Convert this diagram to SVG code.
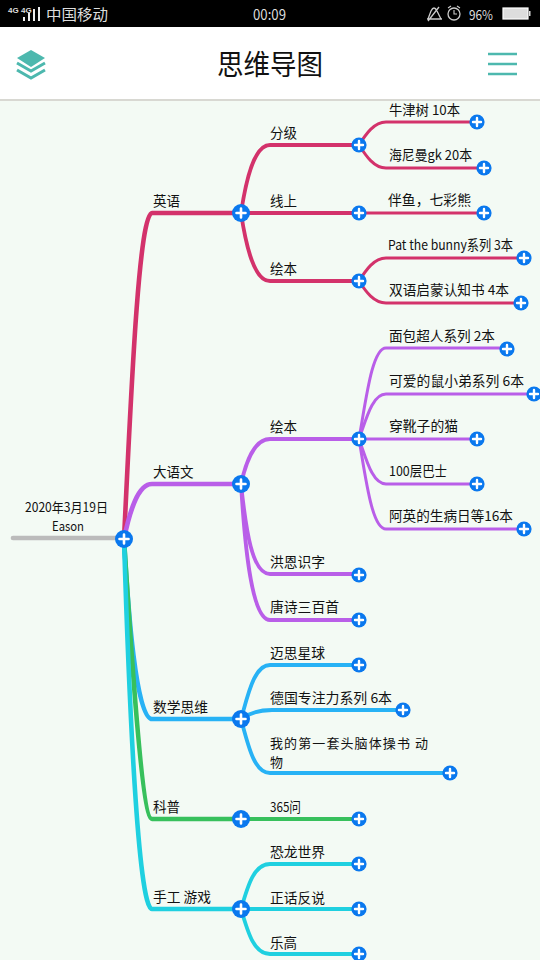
<svg xmlns="http://www.w3.org/2000/svg" width="540" height="960" viewBox="0 0 540 960">
<defs>
<g id="plus"><circle r="7.6" fill="#0a78ee"/><path d="M-4 0H4M0-4V4" stroke="#fff" stroke-width="2.4" stroke-linecap="round" fill="none"/></g>
<g id="plusL"><circle r="9" fill="#0a78ee"/><path d="M-4.5 0H4.5M0-4.5V4.5" stroke="#fff" stroke-width="2.6" stroke-linecap="round" fill="none"/></g>
</defs>
<style>
text{font-family:"Noto Sans CJK SC","Noto Sans",sans-serif;fill:#111;font-size:13.5px}
.c{fill:none;stroke-linecap:round;stroke-linejoin:round}
.r{stroke:#d3326b}.p{stroke:#b95ee8}.b{stroke:#27b2f5}.g{stroke:#37c05c}.t{stroke:#1fd0e0}
.w0{stroke-width:4.6}.w1{stroke-width:3.8}.w2{stroke-width:3}
.st{fill:#ddd;font-size:15px}
.sm{font-size:13px}
</style>
<rect width="540" height="960" fill="#f3faf4"/>
<rect width="540" height="27" fill="#000"/>
<rect y="27" width="540" height="72" fill="#fff"/>
<rect y="99" width="540" height="2" fill="#d8d8d2"/>
<g id="statusbar">
<text x="8" y="13" style="fill:#ddd;font-size:8px;font-weight:bold;font-family:'Liberation Sans',sans-serif">4G</text>
<text x="21" y="13" style="fill:#ddd;font-size:8px;font-weight:bold;font-family:'Liberation Sans',sans-serif">4G</text>
<path d="M23 17h2v4h-2zM28 13h2v8h-2zM33 9h2v12h-2zM38 7h2v14h-2z" fill="#eee" stroke="none"/>
<text class="st" x="46" y="20" textLength="62" lengthAdjust="spacingAndGlyphs">中国移动</text>
<text class="st" x="253" y="20" textLength="33" lengthAdjust="spacingAndGlyphs">00:09</text>
<path d="M428 19L431 11Q434 5 437 11L441 19ZM427 19H442M439 7L428 21" fill="none" stroke="#ccc" stroke-width="1.3"/>
<circle cx="454" cy="14" r="6" fill="none" stroke="#ccc" stroke-width="1.3"/>
<path d="M454 10V14H457M448 8L451 6M460 8L457 6" fill="none" stroke="#ccc" stroke-width="1.1"/>
<text class="st" x="469" y="20" style="font-size:13px" textLength="24" lengthAdjust="spacingAndGlyphs">96%</text>
<rect x="503" y="8" width="25" height="11" fill="#ddd" stroke="#fff" stroke-width="1.2"/>
<rect x="529" y="11" width="1.5" height="5" fill="#ddd"/>
</g>
<g id="appbar">
<g id="layers-icon">
<path d="M31 50L45 58L31 67L17 58Z" fill="#4db8ae"/>
<path d="M17 63L31 71L45 63M17 70L31 78L45 70" fill="none" stroke="#4db8ae" stroke-width="3"/>
</g>
<text x="217" y="75" style="font-size:28px" textLength="106" lengthAdjust="spacingAndGlyphs">思维导图</text>
<path id="menu-icon" d="M488 54H517M488 64H517M488 74H517" stroke="#4db8ae" stroke-width="2.4" fill="none"/>
</g>
<g id="connectors">
<path class="c w0" stroke="#bbb" d="M13 538H124"/>
<path class="c w0 r" d="M124 539C130 420 138 213 152 213H241"/>
<path class="c w0 p" d="M124 539C130 510 138 484 152 484H241"/>
<path class="c w0 b" d="M124 539C128 610 136 719 152 719H241"/>
<path class="c w0 g" d="M124 539C131 650 142 819 152 819H241"/>
<path class="c w0 t" d="M124 539C129 700 138 909 152 909H241"/>
<g class="c w1 r">
<path d="M241 213C246 180 254 145 270 145H359"/><path d="M241 213H359"/><path d="M241 213C246 246 254 281 270 281H359"/>
</g>
<g class="c w2 r">
<path d="M359 145C366 134 374 122 386 122H477"/><path d="M359 145C366 156 374 168 386 168H484"/>
<path d="M359 213H484"/>
<path d="M359 281C366 270 374 258 386 258H524"/><path d="M359 281C366 292 374 303 386 303H521"/>
</g>
<g class="c w1 p">
<path d="M241 484C246 462 254 439 270 439H359"/>
<path d="M241 484C246 530 252 574 270 574H359"/><path d="M241 484C245 550 252 620 270 620H359"/>
</g>
<g class="c w2 p">
<path d="M359 439C366 400 372 348 386 348H507"/><path d="M359 439C366 420 372 394 386 394H534"/>
<path d="M359 439H477"/><path d="M359 439C366 458 372 484 386 484H477"/>
<path d="M359 439C366 480 372 529 386 529H524"/>
</g>
<g class="c w1 b">
<path d="M241 719C248 695 254 665 270 665H359"/><path d="M241 719C248 714 258 710 272 710H404"/>
<path d="M241 719C248 745 254 773 270 773H450"/>
</g>
<path class="c w1 g" d="M241 819H359"/>
<g class="c w1 t">
<path d="M241 909C248 885 254 864 270 864H359"/><path d="M241 909H359"/><path d="M241 909C248 933 254 954 270 954H359"/>
</g>
</g>
<g id="n-root"><text class="sm" x="25" y="512" textLength="83" lengthAdjust="spacingAndGlyphs">2020年3月19日</text><text class="sm" x="52" y="531" textLength="32" lengthAdjust="spacingAndGlyphs">Eason</text><use href="#plusL" x="124" y="539"/></g>
<g id="n-en"><text x="153" y="206">英语</text><use href="#plusL" x="241" y="213"/></g>
<g id="n-en1"><text x="270" y="138">分级</text><use href="#plus" x="359" y="145"/></g>
<g id="n-en11"><text x="389" y="115" textLength="71" lengthAdjust="spacingAndGlyphs">牛津树 10本</text><use href="#plus" x="477" y="122"/></g>
<g id="n-en12"><text x="389" y="160" textLength="83" lengthAdjust="spacingAndGlyphs">海尼曼gk 20本</text><use href="#plus" x="484" y="168"/></g>
<g id="n-en2"><text x="270" y="206">线上</text><use href="#plus" x="359" y="213"/></g>
<g id="n-en21"><text x="388" y="205" textLength="83" lengthAdjust="spacingAndGlyphs">伴鱼，七彩熊</text><use href="#plus" x="484" y="213"/></g>
<g id="n-en3"><text x="270" y="274">绘本</text><use href="#plus" x="359" y="281"/></g>
<g id="n-en31"><text x="388" y="250" textLength="125" lengthAdjust="spacingAndGlyphs">Pat the bunny系列 3本</text><use href="#plus" x="524" y="258"/></g>
<g id="n-en32"><text x="389" y="295" textLength="120" lengthAdjust="spacingAndGlyphs">双语启蒙认知书 4本</text><use href="#plus" x="521" y="303"/></g>
<g id="n-cn"><text x="153" y="477">大语文</text><use href="#plusL" x="241" y="484"/></g>
<g id="n-cn1"><text x="270" y="432">绘本</text><use href="#plus" x="359" y="439"/></g>
<g id="n-cn11"><text x="389" y="341" textLength="106" lengthAdjust="spacingAndGlyphs">面包超人系列 2本</text><use href="#plus" x="507" y="349"/></g>
<g id="n-cn12"><text x="389" y="386" textLength="135" lengthAdjust="spacingAndGlyphs">可爱的鼠小弟系列 6本</text><use href="#plus" x="534" y="394"/></g>
<g id="n-cn13"><text x="389" y="431" textLength="69" lengthAdjust="spacingAndGlyphs">穿靴子的猫</text><use href="#plus" x="477" y="439"/></g>
<g id="n-cn14"><text x="389" y="476" textLength="58" lengthAdjust="spacingAndGlyphs">100层巴士</text><use href="#plus" x="477" y="484"/></g>
<g id="n-cn15"><text x="389" y="521" textLength="124" lengthAdjust="spacingAndGlyphs">阿英的生病日等16本</text><use href="#plus" x="524" y="529"/></g>
<g id="n-cn2"><text x="270" y="567" textLength="55" lengthAdjust="spacingAndGlyphs">洪恩识字</text><use href="#plus" x="359" y="575"/></g>
<g id="n-cn3"><text x="270" y="612" textLength="69" lengthAdjust="spacingAndGlyphs">唐诗三百首</text><use href="#plus" x="359" y="620"/></g>
<g id="n-ma"><text x="153" y="712" textLength="55" lengthAdjust="spacingAndGlyphs">数学思维</text><use href="#plusL" x="241" y="719"/></g>
<g id="n-ma1"><text x="270" y="658" textLength="55" lengthAdjust="spacingAndGlyphs">迈思星球</text><use href="#plus" x="359" y="665"/></g>
<g id="n-ma2"><text x="270" y="703" textLength="122" lengthAdjust="spacingAndGlyphs">德国专注力系列 6本</text><use href="#plus" x="403" y="710"/></g>
<g id="n-ma3"><text class="sm" x="270" y="748" textLength="158" lengthAdjust="spacing">我的第一套头脑体操书 动</text><text class="sm" x="270" y="767">物</text><use href="#plus" x="450" y="773"/></g>
<g id="n-sc"><text x="153" y="812">科普</text><use href="#plusL" x="241" y="819"/></g>
<g id="n-sc1"><text x="270" y="812" textLength="31" lengthAdjust="spacingAndGlyphs">365问</text><use href="#plus" x="359" y="819"/></g>
<g id="n-hw"><text x="153" y="902" textLength="58" lengthAdjust="spacingAndGlyphs">手工 游戏</text><use href="#plusL" x="241" y="909"/></g>
<g id="n-hw1"><text x="270" y="857" textLength="55" lengthAdjust="spacingAndGlyphs">恐龙世界</text><use href="#plus" x="359" y="864"/></g>
<g id="n-hw2"><text x="270" y="903" textLength="55" lengthAdjust="spacingAndGlyphs">正话反说</text><use href="#plus" x="359" y="909"/></g>
<g id="n-hw3"><text x="270" y="948">乐高</text><use href="#plus" x="359" y="954"/></g>
</svg>
